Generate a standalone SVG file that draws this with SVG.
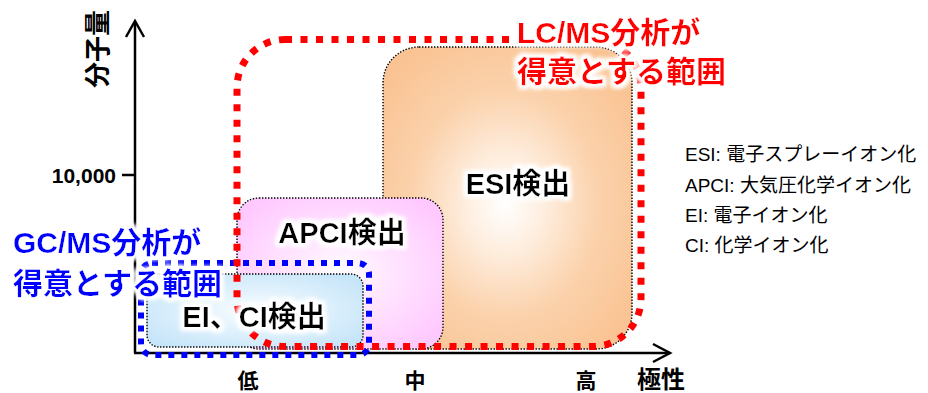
<svg xmlns="http://www.w3.org/2000/svg" width="928" height="393" viewBox="0 0 928 393">
<style>
.box{stroke:#000;stroke-width:1.4;stroke-dasharray:1.4 1.6}
.lab{font-family:"Liberation Sans","Noto Sans CJK JP",sans-serif;font-weight:bold;fill:#000}
.ttl{font-family:"Liberation Sans","Noto Sans CJK JP",sans-serif;font-weight:bold;font-size:30px}
.leg{font-family:"Liberation Sans","Noto Sans CJK JP",sans-serif;font-size:19px;fill:#000}
.ax{stroke:#000;stroke-width:2.5;fill:none}
</style>
<defs>
<radialGradient id="gEsi" cx="0.49" cy="0.52" r="0.62">
<stop offset="0" stop-color="#FFFFFF"/>
<stop offset="0.25" stop-color="#FEEEDF"/>
<stop offset="0.6" stop-color="#FBD2AC"/>
<stop offset="1" stop-color="#FAC393"/>
</radialGradient>
<radialGradient id="gApci" cx="0.5" cy="0.5" r="0.62">
<stop offset="0" stop-color="#FFFFFF"/>
<stop offset="0.35" stop-color="#FFE8FF"/>
<stop offset="1" stop-color="#FFC8FF"/>
</radialGradient>
<radialGradient id="gEi" cx="0.5" cy="0.5" r="0.62">
<stop offset="0" stop-color="#FFFFFF"/>
<stop offset="0.35" stop-color="#E6F4FD"/>
<stop offset="1" stop-color="#C6E5F9"/>
</radialGradient>
<filter id="glow" x="-10%" y="-30%" width="120%" height="160%">
<feMorphology in="SourceAlpha" operator="dilate" radius="3" result="d"/>
<feGaussianBlur in="d" stdDeviation="2" result="b"/>
<feFlood flood-color="#FFFFFF"/>
<feComposite in2="b" operator="in" result="g"/>
<feMerge><feMergeNode in="g"/><feMergeNode in="g"/><feMergeNode in="SourceGraphic"/></feMerge>
</filter>
</defs>
<rect width="928" height="393" fill="#FFFFFF"/>

<g id="connectors">
<line class="ax" x1="135" y1="22" x2="135" y2="353"/>
<polyline class="ax" points="126,37 135,21 144,37"/>
<line class="ax" x1="134" y1="353" x2="670" y2="353"/>
<polyline class="ax" points="653,344 670,353 653,362"/>
<line class="ax" x1="122" y1="175" x2="135" y2="175"/>
</g>

<g id="node-esi">
<rect class="box" x="383" y="47" width="249" height="302" rx="36" fill="url(#gEsi)"/>
</g>
<g id="node-apci">
<rect class="box" x="237" y="198" width="206" height="151" rx="22" fill="url(#gApci)"/>
</g>
<g id="node-ei">
<rect class="box" x="147" y="274" width="216" height="73" rx="12" fill="url(#gEi)"/>
</g>

<g id="region-gc">
<rect x="141" y="263" width="228" height="92" rx="11" fill="none" stroke="#0000FF" stroke-width="6" stroke-dasharray="6 7"/>
</g>
<g id="region-lc">
<rect x="237" y="39.5" width="404" height="307" rx="48" fill="none" stroke="#FF0000" stroke-width="7" stroke-dasharray="7 8.5"/>
</g>

<g id="labels" filter="url(#glow)">
<text class="lab" x="518" y="194" font-size="29" text-anchor="middle">ESI検出</text>
<text class="lab" x="342" y="243" font-size="29" text-anchor="middle">APCI検出</text>
<text class="lab" x="254" y="327" font-size="29" text-anchor="middle">EI、CI検出</text>
<text class="ttl" x="517" y="43" fill="#FF0000">LC/MS分析が</text>
<text class="ttl" x="517" y="82" fill="#FF0000">得意とする範囲</text>
<text class="ttl" x="13" y="253" fill="#0000FF">GC/MS分析が</text>
<text class="ttl" x="13" y="294" fill="#0000FF">得意とする範囲</text>
</g>

<g id="axis-labels">
<text class="lab" x="116" y="183" font-size="21" text-anchor="end">10,000</text>
<text class="lab" font-size="26" text-anchor="middle" transform="translate(107,49) rotate(-90)">分子量</text>
<text class="lab" x="248" y="388" font-size="21" text-anchor="middle">低</text>
<text class="lab" x="415" y="388" font-size="21" text-anchor="middle">中</text>
<text class="lab" x="586" y="388" font-size="21" text-anchor="middle">高</text>
<text class="lab" x="637" y="388" font-size="24">極性</text>
</g>

<g id="legend">
<text class="leg" x="685" y="161">ESI: 電子スプレーイオン化</text>
<text class="leg" x="685" y="192">APCI: 大気圧化学イオン化</text>
<text class="leg" x="685" y="222">EI: 電子イオン化</text>
<text class="leg" x="685" y="252">CI: 化学イオン化</text>
</g>
</svg>
